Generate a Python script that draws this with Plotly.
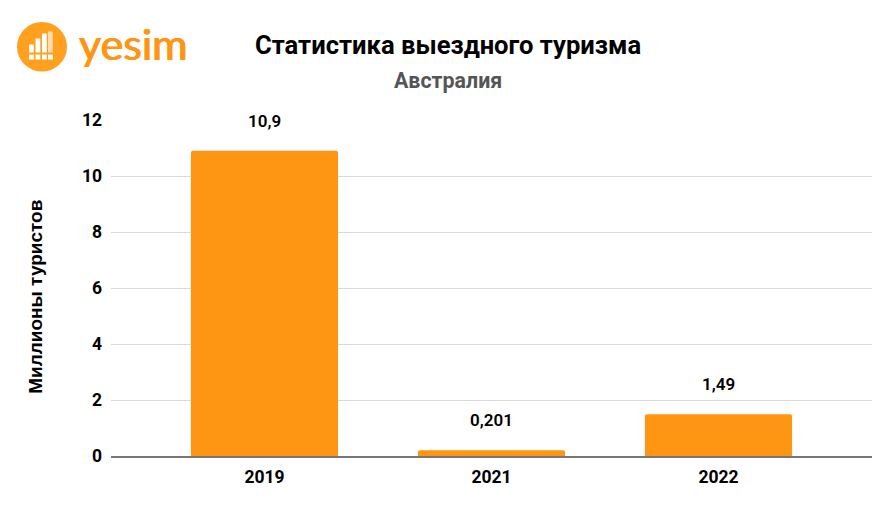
import plotly.graph_objects as go

years = ["2019", "2021", "2022"]
values = [10.9, 0.201, 1.49]
labels = ["10,9", "0,201", "1,49"]
tick_vals = [0, 2, 4, 6, 8, 10, 12]
ORANGE = "#ff9613"
FONT = "Roboto"
W, H = 896, 512
L, R, T, B = 111, 872, 120.4, 456


def px(x):
    return (x - L) / (R - L)


def py(y):
    return (B - y) / (B - T)


fig = go.Figure()
fig.add_bar(x=years, y=values, marker=dict(color=ORANGE, line=dict(width=0), cornerradius=2),
            width=0.648, hoverinfo="skip")

annotations = [
    dict(x=i, y=v, text=t, xref="x", yref="y", showarrow=False, yshift=30, yanchor="middle",
         font=dict(family=FONT, size=17, color="#000000", weight=600))
    for i, (v, t) in enumerate(zip(values, labels))
]
annotations += [
    dict(text="Статистика выездного туризма", x=px(448), y=py(45), xref="paper", yref="paper", showarrow=False,
         yanchor="middle", font=dict(family=FONT, size=25.6, color="#000000", weight=700)),
    dict(text="Австралия", x=px(448), y=py(81), xref="paper", yref="paper", showarrow=False,
         yanchor="middle", font=dict(family=FONT, size=21.4, color="#555555", weight=700)),
    dict(text="yesim", x=px(77), y=py(44), xref="paper", yref="paper", showarrow=False, xanchor="left",
         yanchor="middle", font=dict(family="Lato", size=43, color=ORANGE,
                                     shadow="0.6px 0 0 #ff9613, -0.6px 0 0 #ff9613")),
    dict(text="Миллионы туристов", x=px(36), y=py(297), xref="paper", yref="paper", showarrow=False, textangle=-90,
         xanchor="center", yanchor="middle", font=dict(family="Liberation Sans", size=19, color="#000000", weight=700)),
]


def rect(x0, y0, x1, y1, color="white"):
    return dict(type="rect", xref="paper", yref="paper", x0=px(x0), x1=px(x1), y0=py(y0), y1=py(y1),
                fillcolor=color, line=dict(width=0), layer="above")


shapes = [dict(type="circle", xref="paper", yref="paper", x0=px(17), x1=px(67), y0=py(22.5), y1=py(72),
               fillcolor="#ffa01e", line=dict(width=0), layer="above")]
for x0, top in [(29, 45), (35.5, 39), (42, 34), (48, 32)]:
    shapes.append(rect(x0, top, x0 + 4.8, 53, "white" if x0 < 48 else "#ffdcae"))
    shapes.append(rect(x0, 55, x0 + 4.8, 60))

fig.update_layout(
    width=W, height=H, autosize=False,
    margin=dict(l=L, r=W - R, t=T, b=H - B, autoexpand=False),
    paper_bgcolor="white", plot_bgcolor="white", showlegend=False,
    font=dict(family=FONT, color="#000000"),
    xaxis=dict(type="category", range=[-0.676, 2.676], showgrid=False, ticks="", showline=True,
               linecolor="#777777", linewidth=1.5, layer="below traces", ticklabelstandoff=4,
               tickfont=dict(family=FONT, size=17.5, color="#000000", weight=700)),
    yaxis=dict(range=[0, 12], tickvals=tick_vals, showgrid=True, gridcolor="#d9d9d9", gridwidth=1,
               zeroline=False, ticks="", ticklabelstandoff=8, layer="below traces",
               tickfont=dict(family=FONT, size=17.5, color="#000000", weight=700)),
    annotations=annotations,
    shapes=shapes,
)
fig.write_html("out.html", config={"displayModeBar": False},
               post_script="document.body.style.margin='0';")
